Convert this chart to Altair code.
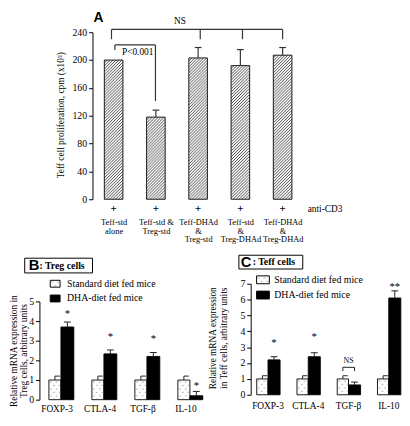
import json
from urllib.parse import quote
import altair as alt
import pandas as pd

SERIF = "Liberation Serif"
SANS = "Liberation Sans"

# ---------------- Panel A data ----------------
a_groups = ["Teff-std|alone", "Teff-std &|Treg-std", "Teff-DHAd|&|Treg-std",
            "Teff-std|&|Treg-DHAd", "Teff-DHAd|&|Treg-DHAd"]
a_values = [200, 118, 203, 192, 207]
a_err = [0, 10, 15, 23, 11]
a_y_ticks = [0, 40, 80, 120, 160, 200, 240]
a_stim = "anti-CD3"
a_ytitle = "Teff cell proliferation, cpm (x10³)"

ns_x = [0.95, 3.05, 4.05, 5.0]
ns_top = 244
ns_leg_end = 230
ns_label_x = [2.57]
ns_label_y = [256]

p_x = [1.03, 1.99]
p_top = 221.7
p_leg_end = [214.6, 141]
p_label_x = [1.57]
p_label_y = [211]

# ---------------- Panels B / C data ----------------
genes = ["FOXP-3", "CTLA-4", "TGF-β", "IL-10"]
series = ["Standard diet fed mice", "DHA-diet fed mice"]

b_std = [1.0, 1.0, 1.0, 1.0]
b_std_err = [0.2, 0.2, 0.2, 0.2]
b_dha = [3.7, 2.33, 2.2, 0.2]
b_dha_err = [0.25, 0.2, 0.2, 0.22]
b_sig = ["*", "*", "*", "*"]
b_sig_y = [4.45, 3.3, 3.2, 0.8]
b_ticks = [0, 1, 2, 3, 4, 5]

c_std = [1.0, 1.0, 1.0, 1.0]
c_std_err = [0.2, 0.2, 0.2, 0.2]
c_dha = [2.2, 2.4, 0.62, 6.1]
c_dha_err = [0.2, 0.25, 0.18, 0.45]
c_sig = ["*", "*", "NS", "**"]
c_sig_y = [3.4, 3.78, 2.23, 6.9]
c_ticks = [0, 1, 2, 3, 4, 5, 6, 7]
c_bracket_x = [2.86, 3.15]
c_bracket_top = 1.73
c_bracket_end = 1.49

# ---------------- fill patterns ----------------
HATCH_SVG = ("<svg xmlns='http://www.w3.org/2000/svg' width='100%' height='100%'>"
             "<defs><pattern id='h' width='3' height='3' patternUnits='userSpaceOnUse'>"
             "<rect width='3' height='3' fill='white'/>"
             "<path d='M-0.75,0.75L0.75,-0.75M0,3L3,0M2.25,3.75L3.75,2.25' stroke='#262626' stroke-width='0.85'/>"
             "</pattern></defs><rect width='100%' height='100%' fill='url(#h)'/></svg>")
HATCH = "data:image/svg+xml;charset=utf-8," + quote(HATCH_SVG)
DOTS_SVG = ("<svg xmlns='http://www.w3.org/2000/svg' width='100%' height='100%'>"
            "<defs><pattern id='d' width='6' height='7' patternUnits='userSpaceOnUse'>"
            "<circle cx='2' cy='2' r='0.6' fill='#555'/><circle cx='5' cy='5.5' r='0.6' fill='#555'/>"
            "</pattern></defs><rect width='100%' height='100%' fill='url(#d)'/></svg>")
DOTS = "data:image/svg+xml;charset=utf-8," + quote(DOTS_SVG)

# ---------------- Panel A ----------------
n_a = len(a_values)
dfa = pd.DataFrame({"idx": list(range(1, n_a + 1)), "label": a_groups,
                    "value": a_values, "err": a_err})
xsA = alt.Scale(domain=[0.5, n_a + 0.5], range=[54, 269], nice=False, zero=False)
ysA = alt.Scale(domain=[0, 240], nice=False, zero=True)
axA_x = alt.Axis(values=list(range(1, n_a + 1)),
                 labelExpr="split(" + json.dumps(a_groups) + "[datum.value - 1], '|')",
                 title=None, domain=False, ticks=False, labelPadding=19, labelFontSize=8.5,
                 labelLineHeight=8.5, labelAngle=0, labelBaseline="top", labelOverlap=False,
                 labelBound=False, labelFlush=False)
axA_y = alt.Axis(values=a_y_ticks, offset=-54, tickSize=4, labelPadding=2, labelFontSize=10,
                 title=a_ytitle, titleFontSize=9.5, titleX=-33, titleY=84,
                 titleBaseline="middle", titleAngle=270, titleAlign="center")


def XA(f):
    return alt.X(f, type="quantitative", scale=xsA, axis=axA_x)


def YA(f):
    return alt.Y(f, type="quantitative", scale=ysA, axis=axA_y)


baseA = alt.Chart(dfa).transform_calculate(
    lo="datum.idx - 0.22", hi="datum.idx + 0.22", zero="0",
    top="datum.value + datum.err", clo="datum.idx - 0.08", chi="datum.idx + 0.08")
rectA = dict(x=XA("lo"), x2="hi", y=YA("zero"), y2="value")
a_fill = baseA.mark_rect(fill="#8d8d8d").encode(**rectA)
a_hatch = baseA.mark_image(url=HATCH, aspect=False).encode(**rectA)
a_outline = baseA.mark_rect(filled=False, stroke="#1e1e1e", strokeWidth=1).encode(**rectA)
a_err_l = baseA.transform_filter("datum.err > 0").mark_rule(color="#333333", strokeWidth=1.2).encode(
    x=XA("idx"), y=YA("value"), y2="top")
a_cap = baseA.transform_filter("datum.err > 0").mark_rule(color="#333333", strokeWidth=1.2).encode(
    x=XA("clo"), x2="chi", y=YA("top"))
a_plus = baseA.mark_text(text="+", font=SERIF, fontSize=11, fontWeight="bold", color="black").encode(
    x=XA("idx"), y=alt.value(180))
a_stim_t = alt.Chart(pd.DataFrame({"t": [a_stim]})).mark_text(
    align="left", baseline="middle", font=SERIF, fontSize=9.5, color="black").encode(
    x=alt.value(273), y=alt.value(180), text="t:N")
a_letter = alt.Chart(pd.DataFrame({"t": ["A"]})).mark_text(
    align="left", baseline="middle", font=SANS, fontWeight="bold", fontSize=14, color="black").encode(
    x=alt.value(55), y=alt.value(-14), text="t:N")

ns_h = alt.Chart(pd.DataFrame({"x": [min(ns_x)], "x2": [max(ns_x)], "y": [ns_top]})).mark_rule(
    color="#333333", strokeWidth=1.2).encode(x=XA("x"), x2="x2", y=YA("y"))
ns_v = alt.Chart(pd.DataFrame({"x": ns_x, "y": [ns_top] * len(ns_x), "y2": [ns_leg_end] * len(ns_x)})).mark_rule(
    color="#333333", strokeWidth=1.2).encode(x=XA("x"), y=YA("y"), y2="y2")
ns_t = alt.Chart(pd.DataFrame({"x": ns_label_x, "y": ns_label_y, "t": ["NS"]})).mark_text(
    font=SERIF, fontSize=9.5, color="black", baseline="middle").encode(x=XA("x"), y=YA("y"), text="t:N")
p_h = alt.Chart(pd.DataFrame({"x": [p_x[0]], "x2": [p_x[1]], "y": [p_top]})).mark_rule(
    color="#333333", strokeWidth=1.2).encode(x=XA("x"), x2="x2", y=YA("y"))
p_v = alt.Chart(pd.DataFrame({"x": p_x, "y": [p_top] * 2, "y2": p_leg_end})).mark_rule(
    color="#333333", strokeWidth=1.2).encode(x=XA("x"), y=YA("y"), y2="y2")
p_t = alt.Chart(pd.DataFrame({"x": p_label_x, "y": p_label_y, "t": ["P<0.001"]})).mark_text(
    font=SERIF, fontSize=9.5, color="black", baseline="middle").encode(x=XA("x"), y=YA("y"), text="t:N")

panelA = alt.layer(a_fill, a_hatch, a_outline, a_err_l, a_cap, a_plus, a_stim_t, a_letter,
                   ns_h, ns_v, ns_t, p_h, p_v, p_t).properties(width=270, height=170)

fill_scale = alt.Scale(domain=series, range=["white", "black"])


# ---------------- Panels B / C ----------------
def expr_panel(letter, name, std, std_err, dha, dha_err, sig, sig_y, ticks, ydom, yrange, height,
               width, xdom, xrange, ytitle, title_x, title_y, title_lh, leg, box, letter_x,
               name_x, box_text_y, cap_std, cap_dha, lab_off, lab_pad, bracket=None):
    rows = []
    for i, g in enumerate(genes):
        rows.append({"idx": i + 1, "gene": g, "series": series[0], "value": std[i], "err": std_err[i]})
        rows.append({"idx": i + 1, "gene": g, "series": series[1], "value": dha[i], "err": dha_err[i]})
    df = pd.DataFrame(rows)
    s0 = json.dumps(series[0])
    base = alt.Chart(df).transform_calculate(
        st=f"datum.series == {s0}"
    ).transform_calculate(
        lo="datum.idx + (datum.st ? -0.28 : 0)",
        hi="datum.idx + (datum.st ? 0 : 0.3)",
        zero="0",
        top="datum.value + datum.err",
    ).transform_calculate(
        mid="(datum.lo + datum.hi) / 2"
    ).transform_calculate(
        clo=f"datum.st ? datum.mid : datum.mid - {cap_dha}",
        chi=f"datum.st ? datum.mid + {cap_std} : datum.mid + {cap_dha}",
    )
    xs = alt.Scale(domain=xdom, range=xrange, nice=False, zero=False)
    ykw = dict(domain=ydom, nice=False, zero=True)
    if yrange is not None:
        ykw["range"] = yrange
    ys = alt.Scale(**ykw)
    yax = alt.Axis(values=ticks, tickSize=4, labelPadding=2, labelFontSize=10, title=ytitle,
                   titleFontSize=9.5, titleLineHeight=title_lh, titleX=title_x, titleY=title_y,
                   titleBaseline="middle", titleAngle=270, titleAlign="center")

    def X(f):
        return alt.X(f, type="quantitative", scale=xs, axis=None)

    def Y(f):
        return alt.Y(f, type="quantitative", scale=ys, axis=yax)

    fill = alt.Fill("series:N", scale=fill_scale, legend=None)
    rect = dict(x=X("lo"), x2="hi", y=Y("zero"), y2="value")
    bars = base.mark_rect(stroke="black", strokeWidth=0.9).encode(fill=fill, **rect)
    dots = base.transform_filter("datum.st").mark_image(url=DOTS, aspect=False).encode(**rect)
    err = base.mark_rule(color="#222222", strokeWidth=1).encode(x=X("mid"), y=Y("value"), y2="top")
    cap = base.mark_rule(color="#222222", strokeWidth=1).encode(x=X("clo"), x2="chi", y=Y("top"))
    sdf = pd.DataFrame({"idx": list(range(1, len(genes) + 1)), "gene": genes, "sig": sig, "y": sig_y})
    sig_l = alt.Chart(sdf).transform_calculate(
        x="datum.idx + (datum.sig == 'NS' ? 0 : 0.15)"
    ).mark_text(font=SERIF, color="black", baseline="middle", dy=2).encode(
        x=X("x"), y=Y("y"), text="sig:N",
        size=alt.condition("datum.sig == 'NS'", alt.value(8), alt.value(11)))
    xlab = alt.Chart(sdf).mark_text(font=SERIF, fontSize=9.5, color="black", baseline="top",
                                    dx=lab_off).encode(
        x=X("idx"), y=alt.value(height + lab_pad), text="gene:N")
    layers = [bars, dots, err, cap, sig_l, xlab]
    if bracket is not None:
        bx, btop, bend = bracket
        layers.append(alt.Chart(pd.DataFrame({"x": [bx[0]], "x2": [bx[1]], "y": [btop]})).mark_rule(
            color="#222222", strokeWidth=1).encode(x=X("x"), x2="x2", y=Y("y")))
        layers.append(alt.Chart(pd.DataFrame({"x": bx, "y": [btop] * 2, "y2": [bend] * 2})).mark_rule(
            color="#222222", strokeWidth=1).encode(x=X("x"), y=Y("y"), y2="y2"))
    # legend (drawn from the same fill scale)
    sx0, sx1, cy, h, gap, tx = leg
    for k, s in enumerate(series):
        ldf = pd.DataFrame({"series": [s]})
        yy0, yy1 = cy - h / 2 + k * gap, cy + h / 2 + k * gap
        layers.append(alt.Chart(ldf).mark_rect(stroke="black", strokeWidth=1).encode(
            x=alt.value(sx0), x2=alt.value(sx1), y=alt.value(yy0), y2=alt.value(yy1),
            fill=alt.Fill("series:N", scale=fill_scale, legend=None)))
        if k == 0:
            layers.append(alt.Chart(ldf).mark_image(url=DOTS, aspect=False).encode(
                x=alt.value(sx0), x2=alt.value(sx1), y=alt.value(yy0), y2=alt.value(yy1)))
        layers.append(alt.Chart(ldf).mark_text(align="left", baseline="middle", font=SERIF,
                                               fontSize=10, color="black").encode(
            x=alt.value(tx), y=alt.value(cy + k * gap), text="series:N"))
    bdf = pd.DataFrame({"letter": [letter], "name": [name]})
    layers.append(alt.Chart(bdf).mark_rect(filled=False, stroke="black", strokeWidth=1).encode(
        x=alt.value(box[0]), x2=alt.value(box[1]), y=alt.value(box[2]), y2=alt.value(box[3])))
    layers.append(alt.Chart(bdf).mark_text(align="left", baseline="middle", font=SANS,
                                           fontWeight="bold", fontSize=15, color="black").encode(
        x=alt.value(letter_x), y=alt.value(box_text_y), text="letter:N"))
    layers.append(alt.Chart(bdf).mark_text(align="left", baseline="middle", font=SERIF,
                                           fontWeight="bold", fontSize=10, color="black").encode(
        x=alt.value(name_x), y=alt.value(box_text_y), text="name:N"))
    return alt.layer(*layers).properties(width=width, height=height)


panelB = expr_panel("B", ": Treg cells", b_std, b_std_err, b_dha, b_dha_err, b_sig, b_sig_y,
                    b_ticks, [0, 5], [118, 18], 118, 165, [0.5, 4.5], [0, 175],
                    ["Relative mRNA expression in", "Treg cells, arbitrary units"], -26.5, 68, 10.5,
                    (11, 21, 0, 7, 15, 28), (-15, 54, -26, -11), -11, 0, -18.5,
                    0.114, 0.08, -4, 5)
panelC = expr_panel("C", ": Teff cells", c_std, c_std_err, c_dha, c_dha_err, c_sig, c_sig_y,
                    c_ticks, [0, 7], None, 113, 150, [0.57, 4.5], [0, 161],
                    ["Relative mRNA expression", "in Teff cells, arbitrary units"], -39, 55, 11.5,
                    (6, 19, -4, 8, 15.5, 24), (-12, 53, -29, -15), -10, 2, -22,
                    0.12, 0.085, 0, 6,
                    bracket=(c_bracket_x, c_bracket_top, c_bracket_end))

row = alt.hconcat(panelB, panelC, spacing=4)
chart = alt.vconcat(panelA, row, spacing=11).properties(padding=0).configure_view(
    stroke=None).configure_axis(
    grid=False, labelFont=SERIF, titleFont=SERIF, labelColor="black", titleColor="black",
    domainColor="black", tickColor="black", titleFontWeight="normal", domainWidth=1, tickWidth=1)

chart.save("out.html", embed_options={"renderer": "svg", "actions": False})
